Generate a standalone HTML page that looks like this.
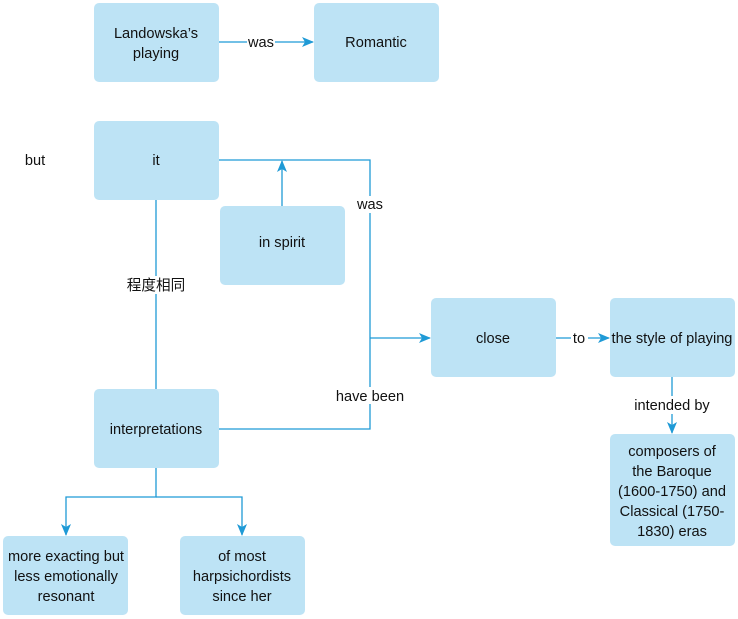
<!DOCTYPE html>
<html><head><meta charset="utf-8"><style>
html,body{margin:0;padding:0;background:#fff;width:738px;height:619px;overflow:hidden}
svg text{font-family:"Liberation Sans","Noto Sans CJK SC",sans-serif;font-size:14.6px;fill:#111;text-anchor:middle}
</style></head><body>
<svg width="738" height="619" xmlns="http://www.w3.org/2000/svg">
<defs><marker id="a" markerWidth="12" markerHeight="10" refX="11" refY="5" orient="auto" markerUnits="userSpaceOnUse"><path d="M0,0 L12,5 L0,10 L3,5 z" fill="#1f9ad6"/></marker></defs>
<g fill="#bde3f5">
<rect x="94" y="3" width="125" height="79" rx="5"/>
<rect x="314" y="3" width="125" height="79" rx="5"/>
<rect x="94" y="121" width="125" height="79" rx="5"/>
<rect x="220" y="206" width="125" height="79" rx="5"/>
<rect x="431" y="298" width="125" height="79" rx="5"/>
<rect x="610" y="298" width="125" height="79" rx="5"/>
<rect x="610" y="434" width="125" height="112" rx="5"/>
<rect x="94" y="389" width="125" height="79" rx="5"/>
<rect x="3" y="536" width="125" height="79" rx="5"/>
<rect x="180" y="536" width="125" height="79" rx="5"/>
</g>
<g stroke="#1f9ad6" stroke-width="1.3" fill="none">
<path d="M219,42 H313" marker-end="url(#a)"/>
<path d="M219,160 H370 V429 H219"/>
<path d="M370,338 H430" marker-end="url(#a)"/>
<path d="M282,206 V161" marker-end="url(#a)"/>
<path d="M156,200 V389"/>
<path d="M556,338 H609" marker-end="url(#a)"/>
<path d="M672,377 V433" marker-end="url(#a)"/>
<path d="M156,468 V497 H66 V535" marker-end="url(#a)"/>
<path d="M156,497 H242 V535" marker-end="url(#a)"/>
</g>
<g fill="#fff">
<rect x="247" y="34" width="28" height="16"/>
<rect x="354" y="196" width="32" height="17"/>
<rect x="332" y="387" width="76" height="17"/>
<rect x="124" y="276" width="64" height="18"/>
<rect x="571" y="330" width="17" height="16"/>
<rect x="632" y="396" width="82" height="18"/>
</g>
<text x="156" y="38">Landowska’s</text><text x="156" y="58">playing</text>
<text x="376" y="47">Romantic</text>
<text x="261" y="47">was</text>
<text x="35" y="165">but</text>
<text x="156" y="165">it</text>
<text x="282" y="247">in spirit</text>
<text x="370" y="209">was</text>
<text x="156" y="290">程度相同</text>
<text x="370" y="401">have been</text>
<text x="493" y="343">close</text>
<text x="579" y="343">to</text>
<text x="672" y="343">the style of playing</text>
<text x="672" y="410">intended by</text>
<text x="672" y="456">composers of</text><text x="672" y="476">the Baroque</text><text x="672" y="496">(1600-1750) and</text><text x="672" y="516">Classical (1750-</text><text x="672" y="536">1830) eras</text>
<text x="156" y="434">interpretations</text>
<text x="66" y="561">more exacting but</text><text x="66" y="581">less emotionally</text><text x="66" y="601">resonant</text>
<text x="242" y="561">of most</text><text x="242" y="581">harpsichordists</text><text x="242" y="601">since her</text>
</svg>
</body></html>
